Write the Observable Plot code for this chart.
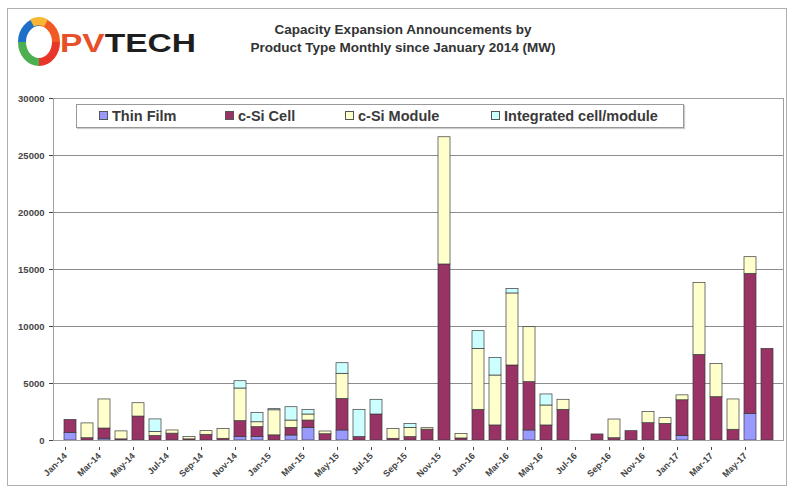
<!DOCTYPE html>
<html>
<head>
<meta charset="utf-8">
<script src="https://cdn.jsdelivr.net/npm/d3@7"></script>
<script src="https://cdn.jsdelivr.net/npm/@observablehq/plot@0.6"></script>
<style>
  html, body { margin: 0; padding: 0; background: #fff; }
  #wrap { position: relative; width: 790px; height: 490px; overflow: hidden; font-family: "Liberation Sans", Arial, sans-serif; }
  #border { position: absolute; left: 7px; top: 8px; width: 780px; height: 478px; border: 1px solid #b0b0b0; box-sizing: border-box; }
  #chart { position: absolute; left: 0; top: 0; }
  #title { position: absolute; left: 203px; width: 400px; top: 21px; text-align: center; font-weight: bold; font-size: 13.5px; line-height: 18px; color: #333; }
  #logo { position: absolute; left: 18px; top: 14px; }
  #legend { position: absolute; left: 76px; top: 104px; width: 608px; height: 24px; border: 1px solid #999; background: #fff; box-sizing: border-box; box-shadow: 1px 1px 1px #ccc; }
  .item { position: absolute; top: 3px; font-weight: bold; font-size: 14.5px; color: #3a3a3a; white-space: nowrap; line-height: 16px; }
  .sw { display: inline-block; width: 7px; height: 7px; border: 1px solid #555; margin-right: 4px; vertical-align: 1px; }
  svg [aria-label="y-axis tick label"] text, svg [aria-label="x-axis tick label"] text { font-weight: bold; }
</style>
</head>
<body>
<div id="wrap">
  <div id="border"></div>
  <div id="chart"></div>
  <svg id="logo" width="190" height="56" viewBox="0 0 190 56">
    <g fill="none" stroke-width="8" stroke-linecap="butt">
      <path d="M 21 8 A 17 20 0 0 1 38 28" stroke="#f15a24"/>
      <path d="M 38 28 A 17 20 0 0 1 21 48" stroke="#e8362a"/>
      <path d="M 21 48 A 17 20 0 0 1 4 28" stroke="#4caf50"/>
      <path d="M 4 28 A 17 20 0 0 1 21 8" stroke="#1e6fc8"/>
      <path d="M 14 9 A 17 20 0 0 1 28 9" stroke="#f7b733"/>
    </g>
    <text x="42" y="38" font-family="Liberation Sans, Arial, sans-serif" font-weight="bold" font-size="25" textLength="136" lengthAdjust="spacingAndGlyphs"><tspan fill="#e8502a">PV</tspan><tspan fill="#1e1e1e">TECH</tspan></text>
  </svg>
  <div id="title">Capacity Expansion Announcements by<br>Product Type Monthly since January 2014 (MW)</div>
  <div id="legend"></div>
</div>
<script>
const months = ["Jan-14","Feb-14","Mar-14","Apr-14","May-14","Jun-14","Jul-14","Aug-14","Sep-14","Oct-14","Nov-14","Dec-14",
  "Jan-15","Feb-15","Mar-15","Apr-15","May-15","Jun-15","Jul-15","Aug-15","Sep-15","Oct-15","Nov-15","Dec-15",
  "Jan-16","Feb-16","Mar-16","Apr-16","May-16","Jun-16","Jul-16","Aug-16","Sep-16","Oct-16","Nov-16","Dec-16",
  "Jan-17","Feb-17","Mar-17","Apr-17","May-17","Jun-17"];
const xTickLabels = ["Jan-14","Mar-14","May-14","Jul-14","Sep-14","Nov-14","Jan-15","Mar-15","May-15","Jul-15","Sep-15","Nov-15",
  "Jan-16","Mar-16","May-16","Jul-16","Sep-16","Nov-16","Jan-17","Mar-17","May-17"];
const yTicks = [0, 5000, 10000, 15000, 20000, 25000, 30000];

const series = ["Thin Film", "c-Si Cell", "c-Si Module", "Integrated cell/module"];
const seriesColors = ["#9999ff", "#993366", "#ffffcc", "#ccffff"];

const thinFilm = [650,0,150,0,0,0,0,0,0,0,300,300,
  0,440,1110,0,880,0,0,0,0,0,0,0,
  0,0,0,880,0,0,0,0,0,0,0,0,
  400,0,0,0,2340,0];
const cSiCell = [1150,200,900,100,2100,400,600,100,500,150,1400,870,
  450,670,640,550,2770,300,2280,150,300,950,15440,180,
  2690,1320,6580,4240,1320,2690,0,530,200,820,1520,1460,
  3130,7510,3800,940,12280,8040];
const cSiModule = [0,1300,2550,700,1170,350,280,200,320,850,2860,430,
  2200,640,530,240,2200,0,0,850,810,130,11160,400,
  5350,4380,6320,4820,1750,880,0,0,1640,0,970,500,
  430,6320,2920,2660,1460,0];
const integrated = [0,0,0,0,0,1100,0,0,0,0,640,800,
  100,1170,410,0,930,2390,1290,0,350,0,0,0,
  1550,1550,400,0,970,0,0,0,0,0,0,0,
  0,0,0,0,0,0];

const seriesValues = [thinFilm, cSiCell, cSiModule, integrated];
const rows = months.flatMap((m, i) =>
  seriesValues.map((arr, k) => ({month: m, type: series[k], value: arr[i]}))
).filter(d => d.value > 0);

const chart = Plot.plot({
  width: 790,
  height: 490,
  marginLeft: 53,
  marginRight: 7,
  marginTop: 98,
  marginBottom: 50,
  style: {fontFamily: "Liberation Sans, Arial, sans-serif", background: "transparent", overflow: "visible"},
  x: {domain: months, padding: 0.3, label: null},
  y: {domain: [0, 30000], label: null},
  color: {domain: series, range: seriesColors},
  marks: [
    Plot.gridY(yTicks, {stroke: "#8c8c8c", strokeOpacity: 1, strokeWidth: 1}),
    Plot.barY(rows, {x: "month", y: "value", fill: "type", order: series, stroke: "#3a3a3a", strokeWidth: 0.7}),
    Plot.frame({stroke: "#a0a0a0"}),
    Plot.axisY({ticks: yTicks, tickFormat: d => String(d), tickSize: 4, tickPadding: 5, fontSize: 9.5, color: "#444", label: null}),
    Plot.axisX({ticks: xTickLabels, tickRotate: -45, tickSize: 3, tickPadding: 4, dx: -5, dy: 7, fontSize: 9, color: "#444", label: null})
  ]
});
document.getElementById("chart").appendChild(chart);

const legend = document.getElementById("legend");
const legendX = [22, 148, 268, 414];
series.forEach((s, k) => {
  const el = document.createElement("div");
  el.className = "item";
  el.style.left = legendX[k] + "px";
  el.innerHTML = `<span class="sw" style="background:${seriesColors[k]}"></span>${s}`;
  legend.appendChild(el);
});
</script>
</body>
</html>
